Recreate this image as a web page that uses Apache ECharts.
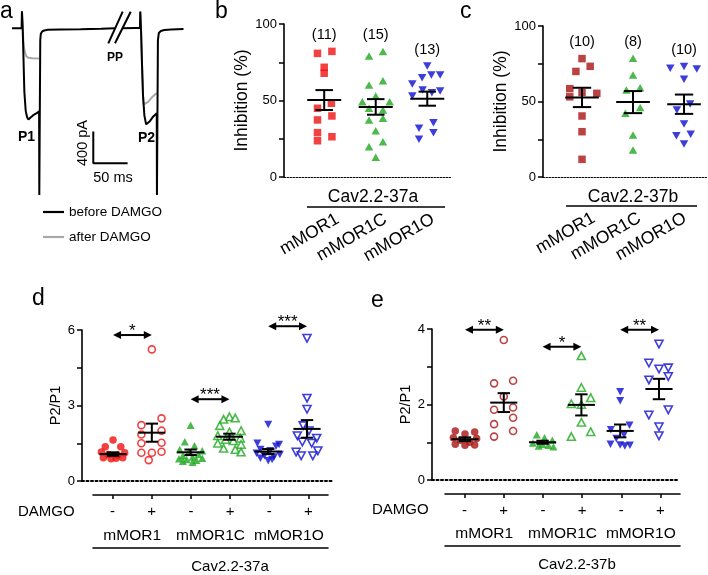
<!DOCTYPE html>
<html>
<head>
<meta charset="utf-8">
<script src="https://cdn.jsdelivr.net/npm/echarts@6/dist/echarts.min.js"></script>
<style>
  html, body { margin: 0; padding: 0; background: #fff; }
  #chart { width: 708px; height: 575px; }
</style>
</head>
<body>
<div id="chart"></div>
<script>
// ---- panel a: current traces (time in ms, current in pA) ----
const beforeP1 = [[0,0],[14,0],[14.5,215],[15.2,80],[15.6,0],[16.5,-300],[18,-800],[20,-1040],[22,-1120],[24,-1150],[27,-1125],[31,-1095],[36,-1070],[39.5,-1045],[39.8,-2100],[40.8,-2100],[41.2,-150],[42,-70],[44,-40],[47,-28],[52,-20],[70,-17],[100,-12],[130,-5],[150,0]];
const beforeP2 = [[161,0],[180,2],[186.5,2],[187,210],[187.7,60],[188.2,-50],[189.5,-450],[191,-850],[193,-1100],[195.5,-1210],[198,-1220],[201,-1170],[206,-1110],[211,-1070],[211.3,-2100],[212.3,-2100],[212.7,-150],[214,-60],[217,-35],[222,-22],[232,-15],[250,-10]];
const afterP1 = [[14.5,215],[15.2,80],[15.6,0],[16.5,-150],[17.5,-240],[19,-310],[21,-355],[24,-372],[30,-378],[39.5,-380]];
const afterP2 = [[187,210],[187.7,60],[188.2,-50],[189.5,-450],[191,-850],[192,-960],[194,-975],[198,-930],[204,-870],[211,-815]];
const scaleBar = [[118.5,-1300],[118.5,-1700],[168.5,-1700]];

// ---- panels b, c: inhibition (%) ----
const groups = ['mMOR1', 'mMOR1C', 'mMOR1O'];
const bCounts = ['(11)', '(15)', '(13)'];
const bMOR1 = [[-0.13,80.8],[0.15,82.1],[0,71.7],[0,67.8],[0.14,48.2],[-0.13,44.9],[0.15,39.9],[-0.13,37.3],[-0.13,29.0],[-0.13,23.7],[0.15,26.3]];
const bMOR1C = [[-0.13,79.1],[0.14,82.1],[-0.13,60.1],[0.14,62.9],[0,52.9],[-0.26,49.2],[0.27,49.2],[-0.13,44.9],[0.14,43.8],[-0.13,37.3],[0.14,38.4],[0,30.3],[-0.13,19.8],[0.14,23.1],[0,12.9]];
const bMOR1O = [[0,72.5],[-0.1,64.9],[0.08,66.7],[0.25,66.7],[-0.29,60.8],[-0.09,56.9],[0.09,55.1],[0.25,56.2],[-0.29,52.9],[0.12,35.5],[-0.16,31.8],[0.12,29.0],[-0.16,24.6]];
const bMean = [50.3, 45.8, 51.2];
const bSem = [6.5, 5.1, 4.6];

const cCounts = ['(10)', '(8)', '(10)'];
const cMOR1 = [[0,78.4],[0.16,73.3],[-0.12,69.9],[-0.24,58.5],[0,56],[-0.24,53.1],[0.29,55.4],[0,40.4],[0,30],[0,11.7]];
const cMOR1C = [[0,78.6],[0,67.5],[0.14,59.1],[-0.13,57.6],[0.14,46],[-0.15,42.2],[0,27.8],[0,17.9]];
const cMOR1O = [[-0.27,72],[0,73.1],[0.25,71.5],[0,64.7],[-0.14,44.4],[0.12,48.3],[0,35.1],[-0.15,27.4],[0.13,28.3],[0,21.9]];
const cMean = [52.7, 49.6, 48.2];
const cSem = [6.4, 7.3, 6.4];

// ---- panels d, e: P2/P1 ----
const damgo = ['-', '+', '-', '+', '-', '+'];
const dMOR1pre = [[0,1.63],[-0.2,1.36],[0.2,1.36],[-0.3,1.15],[0.3,1.12],[-0.12,1.05],[0.12,1.02],[-0.25,0.92],[0.25,0.92],[-0.05,0.88],[0.08,0.9]];
const dMOR1post = [[0,5.23],[-0.27,2.22],[0.25,2.49],[0.25,2.0],[-0.27,1.85],[-0.27,1.5],[0.25,1.52],[-0.27,1.12],[0,1.12],[0.25,1.16],[-0.08,0.83]];
const dMOR1Cpre = [[0,2.22],[-0.15,1.56],[0.1,1.4],[-0.28,1.25],[0.3,1.2],[-0.05,1.15],[0.2,1.05],[-0.2,1.0],[0.05,0.95],[0.3,0.9],[-0.3,0.88],[-0.1,0.85],[0.15,0.82],[-0.2,0.78],[0.05,0.75]];
const dMOR1Cpost = [[0,2.55],[-0.15,2.45],[0.15,2.5],[-0.25,2.2],[0.3,2.0],[0,1.95],[-0.3,1.8],[0.28,1.7],[-0.1,1.65],[0.1,1.6],[-0.3,1.5],[0.3,1.45],[-0.15,1.3],[0.15,1.25],[0.3,1.15]];
const dMOR1Opre = [[0,2.25],[-0.28,1.5],[0.28,1.45],[0.2,1.38],[-0.2,1.25],[0.05,1.2],[-0.3,1.1],[0.3,1.05],[-0.1,1.0],[0.15,0.95],[-0.2,0.9],[0.1,0.85],[0,0.8]];
const dMOR1Opost = [[0,5.67],[0,3.29],[0,2.85],[-0.1,2.2],[0.05,2.0],[-0.25,1.8],[0.25,1.7],[-0.12,1.55],[0.12,1.5],[0.28,1.2],[-0.28,1.15],[-0.15,1.0],[0.15,1.0]];
const dMean = [1.07, 1.92, 1.14, 1.76, 1.17, 2.07];
const dSem = [0.07, 0.36, 0.11, 0.12, 0.1, 0.35];
const dSig = [[0, 1, 5.8, '*'], [2, 3, 3.25, '***'], [4, 5, 6.15, '***']];

const eMOR1pre = [[-0.25,1.3],[0.25,1.27],[0,1.22],[-0.3,1.12],[0.3,1.1],[-0.12,1.05],[0.12,1.0],[-0.25,0.95],[0.25,0.93],[0,0.92]];
const eMOR1post = [[0,3.71],[-0.25,2.56],[0.24,2.63],[0,2.21],[-0.25,1.86],[0.24,1.92],[0.24,1.65],[-0.25,1.48],[0.24,1.3],[-0.25,1.15]];
const eMOR1Cpre = [[-0.15,1.2],[0.05,1.12],[0.25,1.05],[-0.25,0.98],[0,0.95],[0.15,0.92],[-0.1,0.9],[0.28,0.88]];
const eMOR1Cpost = [[0,3.29],[0,2.45],[0.24,2.18],[-0.26,2.02],[0,2.0],[0,1.53],[0.24,1.28],[-0.26,1.15]];
const eMOR1Opre = [[0,2.34],[0,2.1],[0.24,1.45],[-0.24,1.33],[0.1,1.2],[-0.1,1.1],[-0.25,0.95],[0,0.93],[0.25,0.92],[0.12,0.9]];
const eMOR1Opost = [[0,3.6],[-0.26,3.1],[0,2.94],[0.24,2.97],[0.24,2.74],[-0.26,2.65],[0.24,1.86],[-0.26,1.72],[0,1.41],[0,1.17]];
const eMean = [1.08, 2.05, 1.0, 1.99, 1.3, 2.41];
const eSem = [0.05, 0.25, 0.04, 0.28, 0.17, 0.27];
const eSig = [[0, 1, 3.98, '**'], [2, 3, 3.53, '*'], [4, 5, 3.98, '**']];

const FONT = '"Liberation Sans", Arial, Helvetica, sans-serif';
const RED = '#ee1111', DKRED = '#a81414', GREEN = '#1ea81e', BLUE = '#0c0cd0';

const chart = echarts.init(document.getElementById('chart'));

function pts(arr, idx) {
  return arr.map(p => [idx + p[0], p[1]]);
}

function scatter(axis, data, color, symbol, open, size) {
  return {
    type: 'scatter', xAxisIndex: axis, yAxisIndex: axis,
    data: data,
    symbol: symbol === 'down' ? 'triangle' : symbol,
    symbolRotate: symbol === 'down' ? 180 : 0,
    symbolSize: size,
    itemStyle: open
      ? { color: '#fff', borderColor: color, borderWidth: 1.6 }
      : { color: color },
    silent: true, z: 2
  };
}

function errbars(axis, mean, sem, halfMean, halfCap) {
  return {
    type: 'custom', xAxisIndex: axis, yAxisIndex: axis, z: 4, silent: true,
    data: mean.map((m, i) => [i, m, sem[i]]),
    renderItem: function (params, api) {
      const x = api.value(0), m = api.value(1), s = api.value(2);
      const c = api.coord([x, m]), t = api.coord([x, m + s]), b = api.coord([x, m - s]);
      const hw = api.size([halfMean, 0])[0], cw = api.size([halfCap, 0])[0];
      const st = { stroke: '#000', lineWidth: 2 };
      return {
        type: 'group', children: [
          { type: 'line', shape: { x1: c[0] - hw, y1: c[1], x2: c[0] + hw, y2: c[1] }, style: st },
          { type: 'line', shape: { x1: c[0], y1: t[1], x2: c[0], y2: b[1] }, style: st },
          { type: 'line', shape: { x1: c[0] - cw, y1: t[1], x2: c[0] + cw, y2: t[1] }, style: st },
          { type: 'line', shape: { x1: c[0] - cw, y1: b[1], x2: c[0] + cw, y2: b[1] }, style: st }
        ]
      };
    }
  };
}

function counts(axis, labels, sets) {
  return {
    type: 'custom', xAxisIndex: axis, yAxisIndex: axis, silent: true,
    data: sets.map((s, i) => [i, Math.max.apply(null, s.map(p => p[1]))]),
    renderItem: function (params, api) {
      const c = api.coord([api.value(0), api.value(1)]);
      return {
        type: 'text', x: c[0], y: c[1] - 9,
        style: { text: labels[params.dataIndex], textAlign: 'center', textVerticalAlign: 'bottom',
                 fontSize: 14.5, fontFamily: FONT, fill: '#000' }
      };
    }
  };
}

function arrows(axis, sig) {
  return {
    type: 'custom', xAxisIndex: axis, yAxisIndex: axis, silent: true, z: 5,
    data: sig.map(s => [s[0], s[1], s[2]]),
    renderItem: function (params, api) {
      const a = api.coord([api.value(0), api.value(2)]);
      const b = api.coord([api.value(1), api.value(2)]);
      const y = a[1], L = 8, H = 4;
      return {
        type: 'group', children: [
          { type: 'line', shape: { x1: a[0] + 4, y1: y, x2: b[0] - 4, y2: y }, style: { stroke: '#000', lineWidth: 2 } },
          { type: 'polygon', shape: { points: [[a[0], y], [a[0] + L, y - H], [a[0] + L, y + H]] }, style: { fill: '#000' } },
          { type: 'polygon', shape: { points: [[b[0], y], [b[0] - L, y - H], [b[0] - L, y + H]] }, style: { fill: '#000' } },
          { type: 'text', x: (a[0] + b[0]) / 2, y: y + 5,
            style: { text: sig[params.dataIndex][3], textAlign: 'center', textVerticalAlign: 'bottom',
                     fontSize: 17, fontFamily: FONT, fill: '#000' } }
        ]
      };
    }
  };
}

function trace(data, name, color) {
  return {
    type: 'line', name: name, xAxisIndex: 0, yAxisIndex: 0, data: data,
    symbol: 'none', showSymbol: false, silent: true,
    lineStyle: { color: color, width: 2 }, itemStyle: { color: color }
  };
}

const black = '#000';
const axLine = { show: true, onZero: false, lineStyle: { color: black, width: 1.6 } };
const noShow = { show: false };

function dataX(grid, min, max, dot) {
  return {
    type: 'value', gridIndex: grid, min: min, max: max, position: 'bottom',
    axisLine: { show: true, onZero: true, lineStyle: { color: black, width: dot[0], type: dot[1] } },
    axisTick: noShow, axisLabel: noShow, splitLine: noShow
  };
}

function dataY(grid, max, interval, labelEvery, name, nameSize, nameGap) {
  return {
    type: 'value', gridIndex: grid, min: 0, max: max, interval: interval, position: 'left',
    axisLine: axLine,
    axisTick: { show: true, length: 5, lineStyle: { color: black, width: 1.5 } },
    axisLabel: {
      margin: 7, fontSize: 13, fontFamily: FONT, color: black,
      formatter: v => (Math.abs(v / labelEvery - Math.round(v / labelEvery)) < 1e-6 ? String(v) : '')
    },
    splitLine: noShow,
    name: name, nameLocation: 'middle', nameGap: nameGap,
    nameTextStyle: { fontSize: nameSize, fontFamily: FONT, color: black }
  };
}

function hiddenY(grid) {
  return { type: 'value', gridIndex: grid, show: false };
}

function rotCats(grid) {
  return {
    type: 'category', gridIndex: grid, data: groups, position: 'bottom',
    axisLine: noShow, axisTick: noShow,
    axisLabel: { rotate: 30, margin: 11, fontSize: 17.5, fontFamily: FONT, color: black, interval: 0 }
  };
}

function damgoRow(grid) {
  return {
    type: 'category', gridIndex: grid, data: damgo, position: 'bottom',
    axisLine: axLine,
    axisTick: { show: true, alignWithLabel: true, length: 4, lineStyle: { color: black, width: 1.5 } },
    axisLabel: { margin: 9, fontSize: 15, fontFamily: FONT, color: black, interval: 0 }
  };
}

function groupRow(grid, offset) {
  return {
    type: 'category', gridIndex: grid, data: groups, position: 'bottom', offset: offset,
    axisLine: axLine, axisTick: noShow,
    axisLabel: { inside: true, margin: 4, fontSize: 15.5, fontFamily: FONT, color: black, interval: 0 }
  };
}

function txt(x, y, text, size, extra) {
  const e = extra || {};
  return {
    type: 'text', x: x, y: y, rotation: e.rotation || 0, silent: true,
    style: {
      text: text, fontSize: size, fontFamily: FONT, fontWeight: e.bold ? 'bold' : 'normal',
      fill: black, textAlign: e.align || 'center', textVerticalAlign: e.valign || 'middle'
    }
  };
}

function hline(x1, x2, y, w) {
  return { type: 'line', silent: true, shape: { x1: x1, y1: y, x2: x2, y2: y }, style: { stroke: black, lineWidth: w || 1.6 } };
}

const option = {
  animation: false,
  backgroundColor: '#fff',
  textStyle: { fontFamily: FONT },
  legend: {
    data: ['before DAMGO', 'after DAMGO'],
    orient: 'vertical', left: 38, top: 200, itemWidth: 21, itemHeight: 2.2, itemGap: 11,
    icon: 'rect',
    textStyle: { fontSize: 13.5, fontFamily: FONT, color: black },
    selectedMode: false
  },
  grid: [
    { left: 12, top: 10, width: 171.5, height: 185 },   // a
    { left: 284, top: 24, width: 168, height: 153 },    // b
    { left: 314, top: 190, width: 143, height: 17 },    // b labels
    { left: 543, top: 26, width: 165, height: 151 },    // c
    { left: 571, top: 189, width: 148, height: 17 },    // c labels
    { left: 82, top: 330, width: 251, height: 151 },    // d
    { left: 93, top: 485, width: 235, height: 10 },     // d labels
    { left: 432, top: 329, width: 246, height: 151 },   // e
    { left: 445, top: 484, width: 235, height: 10 }     // e labels
  ],
  xAxis: [
    { type: 'value', gridIndex: 0, min: 0, max: 250, show: false },
    dataX(1, -0.78, 2.48, [1.2, [1.5, 1.5]]),
    rotCats(2),
    dataX(3, -0.765, 2.47, [1.2, [1.5, 1.5]]),
    rotCats(4),
    dataX(5, -0.8, 5.67, [2, [2, 2.5]]),
    damgoRow(6),
    dataX(7, -0.85, 5.49, [2, [2, 2.5]]),
    damgoRow(8),
    groupRow(6, 53),
    groupRow(8, 52)
  ],
  yAxis: [
    { type: 'value', gridIndex: 0, min: -2100, max: 230, show: false },
    dataY(1, 100, 25, 50, 'Inhibition (%)', 17.5, 31),
    hiddenY(2),
    dataY(3, 100, 25, 50, 'Inhibition (%)', 17.5, 31),
    hiddenY(4),
    dataY(5, 6, 1.5, 3, 'P2/P1', 14.5, 17),
    hiddenY(6),
    dataY(7, 4, 1, 2, 'P2/P1', 14.5, 16),
    hiddenY(8)
  ],
  series: [
    trace(afterP1, 'after DAMGO', '#a8a8a8'),
    trace(afterP2, 'after DAMGO', '#a8a8a8'),
    trace(beforeP1, 'before DAMGO', black),
    trace(beforeP2, 'before DAMGO', black),
    { type: 'line', name: 'scale bar', xAxisIndex: 0, yAxisIndex: 0, data: scaleBar, symbol: 'none',
      silent: true, lineStyle: { color: black, width: 2 } },

    // b
    scatter(1, pts(bMOR1, 0), RED, 'rect', false, 7.5),
    scatter(1, pts(bMOR1C, 1), GREEN, 'triangle', false, [8.5, 7.5]),
    scatter(1, pts(bMOR1O, 2), BLUE, 'down', false, [8.5, 7.5]),
    errbars(1, bMean, bSem, 0.33, 0.17),
    counts(1, bCounts, [bMOR1, bMOR1C, bMOR1O]),

    // c
    scatter(3, pts(cMOR1, 0), DKRED, 'rect', false, 7.5),
    scatter(3, pts(cMOR1C, 1), GREEN, 'triangle', false, [8.5, 7.5]),
    scatter(3, pts(cMOR1O, 2), BLUE, 'down', false, [8.5, 7.5]),
    errbars(3, cMean, cSem, 0.33, 0.18),
    counts(3, cCounts, [cMOR1, cMOR1C, cMOR1O]),

    // d
    scatter(5, pts(dMOR1pre, 0), RED, 'circle', false, 7.5),
    scatter(5, pts(dMOR1post, 1), RED, 'circle', true, 7),
    scatter(5, pts(dMOR1Cpre, 2), GREEN, 'triangle', false, [8, 7.5]),
    scatter(5, pts(dMOR1Cpost, 3), GREEN, 'triangle', true, [8, 7.5]),
    scatter(5, pts(dMOR1Opre, 4), BLUE, 'down', false, [8, 7.5]),
    scatter(5, pts(dMOR1Opost, 5), BLUE, 'down', true, [8, 7.5]),
    errbars(5, dMean, dSem, 0.35, 0.16),
    arrows(5, dSig),

    // e
    scatter(7, pts(eMOR1pre, 0), DKRED, 'circle', false, 7.5),
    scatter(7, pts(eMOR1post, 1), DKRED, 'circle', true, 7),
    scatter(7, pts(eMOR1Cpre, 2), GREEN, 'triangle', false, [8, 7.5]),
    scatter(7, pts(eMOR1Cpost, 3), GREEN, 'triangle', true, [8, 7.5]),
    scatter(7, pts(eMOR1Opre, 4), BLUE, 'down', false, [8, 7.5]),
    scatter(7, pts(eMOR1Opost, 5), BLUE, 'down', true, [8, 7.5]),
    errbars(7, eMean, eSem, 0.35, 0.16),
    arrows(7, eSig)
  ],
  graphic: [
    // panel letters
    txt(0, 23, 'a', 23, { align: 'left', valign: 'bottom' }),
    txt(215, 23, 'b', 23, { align: 'left', valign: 'bottom' }),
    txt(460, 23, 'c', 23, { align: 'left', valign: 'bottom' }),
    txt(32, 310, 'd', 23, { align: 'left', valign: 'bottom' }),
    txt(371, 312, 'e', 23, { align: 'left', valign: 'bottom' }),
    // panel a annotations
    txt(115, 58, 'PP', 12, { bold: true }),
    txt(26.5, 137, 'P1', 14, { bold: true }),
    txt(146.5, 138, 'P2', 14, { bold: true }),
    txt(83, 143, '400 pA', 14.5, { rotation: Math.PI / 2 }),
    txt(113, 178, '50 ms', 14.5),
    { type: 'line', silent: true, shape: { x1: 108.3, y1: 43.3, x2: 122.7, y2: 11.7 }, style: { stroke: black, lineWidth: 2 } },
    { type: 'line', silent: true, shape: { x1: 115, y1: 43.3, x2: 130.7, y2: 11.7 }, style: { stroke: black, lineWidth: 2 } },
    // panel b/c group captions
    txt(373, 197, 'Cav2.2-37a', 17.5),
    hline(307, 445, 207),
    txt(633, 197, 'Cav2.2-37b', 17.5),
    hline(566, 697, 206),
    // panel d/e captions
    txt(18, 512, 'DAMGO', 15, { align: 'left' }),
    txt(230, 567, 'Cav2.2-37a', 15),
    txt(372, 510, 'DAMGO', 15, { align: 'left' }),
    txt(577, 565, 'Cav2.2-37b', 15)
  ]
};

chart.setOption(option);
</script>
</body>
</html>
